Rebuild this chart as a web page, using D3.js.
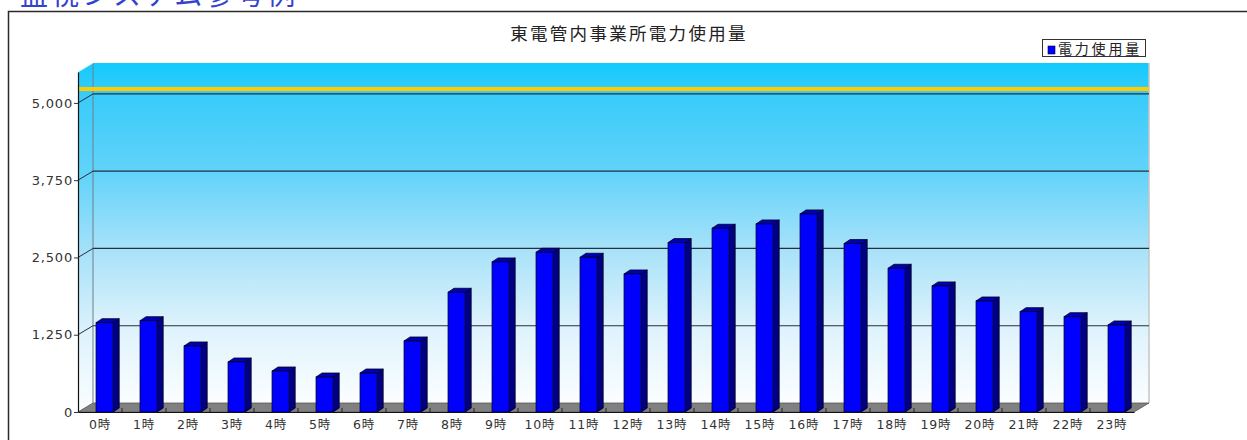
<!DOCTYPE html>
<html>
<head>
<meta charset="utf-8">
<script src="https://cdn.jsdelivr.net/npm/d3@7/dist/d3.min.js"></script>
<style>
    body { margin: 0; background: #fff; }
    svg { display: block; }
    text { font-family: "DejaVu Sans", "Noto Sans CJK JP", sans-serif; }
</style>
</head>
<body>
<svg width="1247" height="440"></svg>
<script>
var pageTitle = "監視システム参考例";
var chartTitle = "東電管内事業所電力使用量";
var legendLabel = "電力使用量";

var hours = ["0時", "1時", "2時", "3時", "4時", "5時", "6時", "7時", "8時", "9時", "10時", "11時",
    "12時", "13時", "14時", "15時", "16時", "17時", "18時", "19時", "20時", "21時", "22時", "23時"];
var usage = [1445, 1477, 1068, 809, 663, 566, 631, 1149, 1937, 2427, 2584, 2503,
    2233, 2740, 2972, 3042, 3204, 2724, 2325, 2039, 1796, 1623, 1542, 1408];
var yTicks = [0, 1250, 2500, 3750, 5000];
var limitValue = 5080;

var svg = d3.select("svg");

// 3d offsets of the wall and of the bars
var depth = { x: 15, y: -9 };
var barDepth = { x: 6, y: -4 };

var x = d3.scaleBand().domain(hours).range([78, 1134]);
var y = d3.scaleLinear().domain([0, 5500]).range([412, 72]);

function pts(list) {
    return list.map(function (p) { return p[0] + "," + p[1]; }).join(" ");
}

// gradient for the walls
var grad = svg.append("defs").append("linearGradient")
    .attr("id", "wall").attr("x1", 0).attr("y1", 0).attr("x2", 0).attr("y2", 1);
[["0%", "#12cbfd"], ["9%", "#38cbfa"], ["32%", "#62d3fa"], ["55%", "#a8e2f9"], ["77%", "#ddf2fc"], ["100%", "#fbfeff"]]
    .forEach(function (s) {
        grad.append("stop").attr("offset", s[0]).attr("stop-color", s[1]);
    });

// outer frame and page heading
svg.append("rect")
    .attr("x", 8.5).attr("y", 11.5).attr("width", 1300).attr("height", 500)
    .attr("fill", "none").attr("stroke", "#2a2a2a").attr("stroke-width", 1.5);

svg.append("text")
    .attr("x", 20).attr("y", 5)
    .attr("font-size", 28).attr("letter-spacing", 3)
    .attr("fill", "#3341cf")
    .style("font-family", "'Noto Sans CJK JP', sans-serif")
    .text(pageTitle);

var x0 = x.range()[0], x1 = x.range()[1];
var yb = y(0), yt = y.domain()[1];

// back wall
svg.append("rect")
    .attr("x", x0 + depth.x).attr("y", y(yt) + depth.y)
    .attr("width", x1 - x0).attr("height", yb - y(yt))
    .attr("fill", "url(#wall)").attr("stroke", "none");

// left wall
svg.append("polygon")
    .attr("points", pts([[x0, y(yt)], [x0 + depth.x, y(yt) + depth.y], [x0 + depth.x, yb + depth.y], [x0, yb]]))
    .attr("fill", "url(#wall)");

svg.append("line")
    .attr("x1", x0 + depth.x).attr("x2", x0 + depth.x)
    .attr("y1", y(yt) + depth.y).attr("y2", yb + depth.y)
    .attr("stroke", "#6f7f88").attr("stroke-width", 1);
svg.append("line")
    .attr("x1", x1 + depth.x).attr("x2", x1 + depth.x)
    .attr("y1", y(yt) + depth.y).attr("y2", yb + depth.y)
    .attr("stroke", "#c4c4c4").attr("stroke-width", 1.5);
svg.append("line")
    .attr("x1", x0).attr("x2", x0 + depth.x)
    .attr("y1", y(yt)).attr("y2", y(yt) + depth.y)
    .attr("stroke", "#d8eef8").attr("stroke-width", 1);

// grid lines on the back wall
svg.selectAll("line.grid").data(yTicks.slice(1)).enter().append("line")
    .attr("class", "grid")
    .attr("x1", x0 + depth.x).attr("x2", x1 + depth.x)
    .attr("y1", function (d) { return y(d) + depth.y; })
    .attr("y2", function (d) { return y(d) + depth.y; })
    .attr("stroke", "#223040").attr("stroke-width", 1.2);

// diagonal ticks on the left wall
svg.selectAll("line.diag").data(yTicks.slice(1)).enter().append("line")
    .attr("class", "diag")
    .attr("x1", x0).attr("x2", x0 + depth.x)
    .attr("y1", function (d) { return y(d); })
    .attr("y2", function (d) { return y(d) + depth.y; })
    .attr("stroke", "#223040").attr("stroke-width", 1);

// limit line
svg.append("line")
    .attr("x1", x0).attr("x2", x1 + depth.x)
    .attr("y1", y(limitValue) + depth.y).attr("y2", y(limitValue) + depth.y)
    .attr("stroke", "#ffcc00").attr("stroke-width", 4);

// floor
svg.append("polygon")
    .attr("points", pts([[x0, yb], [x0 + depth.x, yb + depth.y], [x1 + depth.x, yb + depth.y], [x1, yb]]))
    .attr("fill", "#808080").attr("stroke", "#555").attr("stroke-width", 0.8);

// bars
var bw = x.bandwidth() * 0.39;
var bo = x.bandwidth() * 0.41;
var bars = svg.selectAll("g.bar").data(usage).enter().append("g").attr("class", "bar");

bars.append("polygon")
    .attr("points", function (d, i) {
        var l = x(hours[i]) + bo + bw, t = y(d);
        return pts([[l, t], [l + barDepth.x, t + barDepth.y], [l + barDepth.x, yb + barDepth.y], [l, yb]]);
    })
    .attr("fill", "#000080").attr("stroke", "#000022").attr("stroke-width", 0.8);

bars.append("polygon")
    .attr("points", function (d, i) {
        var l = x(hours[i]) + bo, t = y(d);
        return pts([[l, t], [l + barDepth.x, t + barDepth.y], [l + bw + barDepth.x, t + barDepth.y], [l + bw, t]]);
    })
    .attr("fill", "#0000b4").attr("stroke", "#000022").attr("stroke-width", 0.8);

bars.append("rect")
    .attr("x", function (d, i) { return x(hours[i]) + bo; })
    .attr("y", function (d) { return y(d); })
    .attr("width", bw)
    .attr("height", function (d) { return yb - y(d); })
    .attr("fill", "#0000ff").attr("stroke", "#000022").attr("stroke-width", 0.8);

// y axis
var yAxis = svg.append("g")
    .attr("transform", "translate(" + x0 + ",0)")
    .call(d3.axisLeft(y).tickValues(yTicks).tickFormat(d3.format(",")).tickSize(4).tickSizeOuter(0));
yAxis.select(".domain").attr("stroke", "#111").attr("stroke-width", 1.2);
yAxis.selectAll(".tick line").attr("stroke", "#333");
yAxis.selectAll(".tick text")
    .attr("x", -5)
    .attr("font-size", 13).attr("letter-spacing", 0.8)
    .attr("fill", "#333");

// x axis
var xAxis = svg.append("g")
    .attr("transform", "translate(0," + yb + ")")
    .call(d3.axisBottom(x).tickSize(0).tickSizeOuter(0));
xAxis.select(".domain").attr("stroke", "#111").attr("stroke-width", 1.2);
xAxis.selectAll(".tick text")
    .attr("y", 8)
    .attr("font-size", 12.5).attr("letter-spacing", 0.8)
    .attr("fill", "#333");

// small ticks between the categories
svg.selectAll("line.xt").data(hours.slice(1)).enter().append("line")
    .attr("class", "xt")
    .attr("x1", function (d) { return x(d); }).attr("x2", function (d) { return x(d); })
    .attr("y1", yb - 4).attr("y2", yb)
    .attr("stroke", "#222");

// title
svg.append("text")
    .attr("x", 629).attr("y", 40)
    .attr("text-anchor", "middle")
    .attr("font-size", 17.5).attr("letter-spacing", 2.3)
    .attr("fill", "#222")
    .style("font-family", "'Noto Sans CJK JP', sans-serif")
    .text(chartTitle);

// legend
var legend = svg.append("g");
legend.append("rect")
    .attr("x", 1042.5).attr("y", 39.5).attr("width", 103).attr("height", 17)
    .attr("fill", "#fff").attr("stroke", "#333");
legend.append("rect")
    .attr("x", 1048).attr("y", 46).attr("width", 7).attr("height", 8)
    .attr("fill", "#0000ff").attr("stroke", "#000033").attr("stroke-width", 0.6);
legend.append("text")
    .attr("x", 1058).attr("y", 54)
    .attr("font-size", 14).attr("letter-spacing", 2.8)
    .attr("fill", "#222")
    .style("font-family", "'Noto Sans CJK JP', sans-serif")
    .text(legendLabel);
</script>
</body>
</html>
